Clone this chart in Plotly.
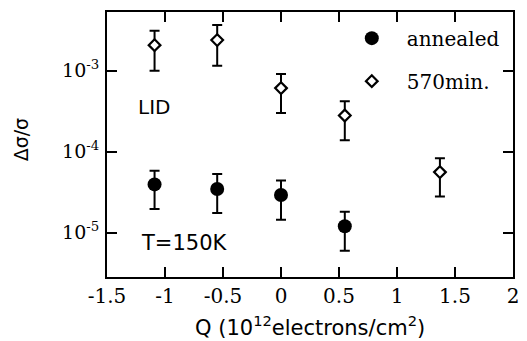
import plotly.graph_objects as go

# ---- data ----
q_570 = [-1.09, -0.55, 0.0, 0.55, 1.37]
v_570 = [2.07e-3, 2.39e-3, 6.1e-4, 2.8e-4, 5.6e-5]
v_570_hi = [3.12e-3, 3.66e-3, 9.1e-4, 4.2e-4, 8.3e-5]
v_570_lo = [1.0e-3, 1.15e-3, 3.0e-4, 1.39e-4, 2.8e-5]

q_ann = [-1.09, -0.55, 0.0, 0.55]
v_ann = [3.95e-5, 3.47e-5, 2.92e-5, 1.2e-5]
v_ann_hi = [5.8e-5, 5.3e-5, 4.4e-5, 1.82e-5]
v_ann_lo = [1.96e-5, 1.75e-5, 1.44e-5, 6.0e-6]

x_ticks = [-1.5, -1, -0.5, 0, 0.5, 1, 1.5, 2]
x_ticktext = ["-1.5", "-1", "-0.5", "0", "0.5", "1", "1.5", "2"]
y_ticks = [1e-5, 1e-4, 1e-3]
y_ticktext = ["10<sup>-5</sup>", "10<sup>-4</sup>", "10<sup>-3</sup>"]

SERIF = "DejaVu Serif"
SANS = "DejaVu Sans"

def err(v, hi, lo):
    return dict(type="data", symmetric=False,
                array=[h - c for h, c in zip(hi, v)],
                arrayminus=[c - l for c, l in zip(v, lo)],
                color="black", thickness=2, width=5)

circle_marker = dict(symbol="circle", size=14, color="black")
diamond_marker = dict(symbol="diamond", size=9, color="white",
                      line=dict(color="black", width=2.2))

fig = go.Figure()
fig.add_trace(go.Scatter(x=q_ann, y=v_ann, mode="markers", showlegend=False,
                         error_y=err(v_ann, v_ann_hi, v_ann_lo),
                         marker=circle_marker))
fig.add_trace(go.Scatter(x=q_570, y=v_570, mode="markers", showlegend=False,
                         error_y=err(v_570, v_570_hi, v_570_lo),
                         marker=diamond_marker))
# legend entries
fig.add_trace(go.Scatter(x=[None], y=[None], mode="markers", name="annealed",
                         legendgroup="a", marker=circle_marker))
fig.add_trace(go.Scatter(x=[None], y=[None], mode="markers", name="570min.",
                         legendgroup="b", marker=diamond_marker))

axis_common = dict(showline=True, linecolor="black", linewidth=2, mirror="ticks",
                   ticks="inside", ticklen=10, tickwidth=2, tickcolor="black",
                   showgrid=False, zeroline=False)

fig.update_xaxes(range=[-1.5, 2], tickvals=x_ticks, ticktext=x_ticktext,
                 tickfont=dict(family=SERIF, size=20, color="black"), **axis_common)
fig.update_yaxes(type="log", range=[-5.547, -2.275], tickvals=y_ticks,
                 ticktext=y_ticktext, ticklabelstandoff=2,
                 tickfont=dict(family=SERIF, size=19, color="black"), **axis_common)

fig.update_layout(
    width=527, height=341,
    margin=dict(l=107, r=8, t=12, b=64),
    plot_bgcolor="white", paper_bgcolor="white",
    showlegend=True,
    legend=dict(x=0.566, y=0.975, xanchor="left", yanchor="top", itemwidth=60,
                bgcolor="rgba(0,0,0,0)", traceorder="grouped", tracegroupgap=14,
                font=dict(family=SERIF, size=20, color="black")),
    annotations=[
        dict(text="LID", x=0.072, y=0.64, xref="paper", yref="paper",
             xanchor="left", yanchor="middle", showarrow=False,
             font=dict(family=SANS, size=20, color="black")),
        dict(text="T=150K", x=0.078, y=0.13, xref="paper", yref="paper",
             xanchor="left", yanchor="middle", showarrow=False,
             font=dict(family=SANS, size=21, color="black")),
        dict(text="Q (10<sup>12</sup>electrons/cm<sup>2</sup>)", x=0.5, y=-0.185,
             xref="paper", yref="paper", xanchor="center", yanchor="middle",
             showarrow=False, font=dict(family=SANS, size=21, color="black")),
        dict(text="Δσ/σ", x=-0.211, y=0.517, xref="paper", yref="paper",
             xanchor="center", yanchor="middle", textangle=-90, showarrow=False,
             font=dict(family=SANS, size=19, color="black")),
    ],
)

fig.write_html("out.html", config={"displayModeBar": False},
               post_script="document.body.style.margin='0';")
